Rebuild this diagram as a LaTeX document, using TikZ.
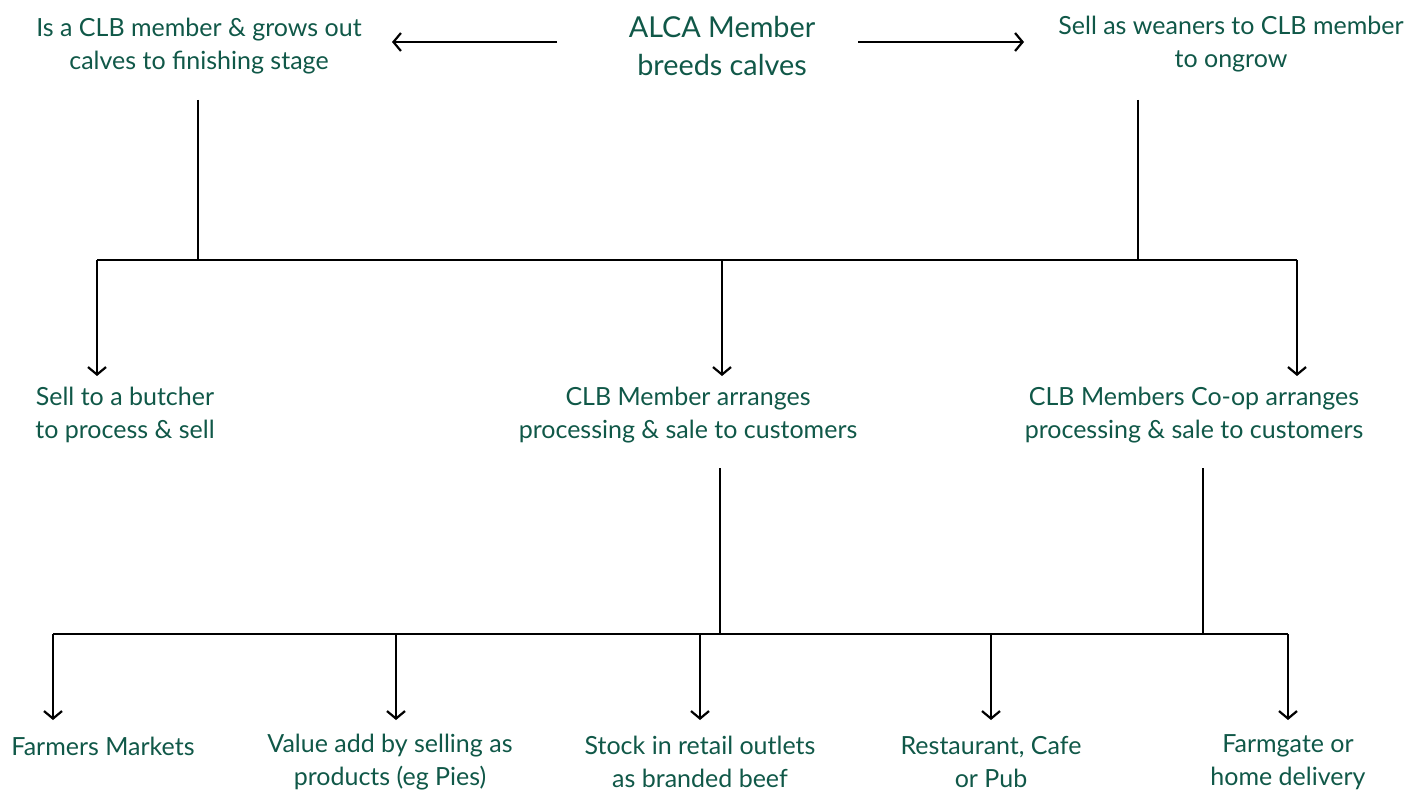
\documentclass[tikz,border=0pt]{standalone}
\usepackage{fontspec}
\setmainfont{Lato}
\usetikzlibrary{arrows.meta}
\definecolor{dg}{RGB}{16,88,72}
\tikzset{
  lbl/.style={text=dg, align=center, inner sep=0pt, font=\fontsize{25}{32.5}\selectfont},
  ttl/.style={text=dg, align=center, inner sep=0pt, font=\fontsize{28.8}{38}\selectfont},
  ln/.style={line width=2.2pt, black},
  arr/.style={ln, -{Straight Barb[length=7.5pt,width=18pt,line width=2.2pt]}},
}
\begin{document}
\begin{tikzpicture}[x=1pt,y=-1pt]
\useasboundingbox (0,0) rectangle (1410,791);
% nodes
\node[ttl] (title) at (722,46) {ALCA Member\\breeds calves};
\node[lbl] (tl) at (199,46) {Is a CLB member \& grows out\\calves to finishing stage};
\node[lbl] (tr) at (1231,44) {Sell as weaners to CLB member\\to ongrow};
\node[lbl] (m1) at (125,415) {Sell to a butcher\\to process \& sell};
\node[lbl] (m2) at (688,415) {CLB Member arranges\\processing \& sale to customers};
\node[lbl] (m3) at (1194,415) {CLB Members Co-op arranges\\processing \& sale to customers};
\node[lbl] (b1) at (103,746) {Farmers Markets};
\node[lbl] (b2) at (390,762) {Value add by selling as\\products (eg Pies)};
\node[lbl] (b3) at (700,762) {Stock in retail outlets\\as branded beef};
\node[lbl] (b4) at (991,762) {Restaurant, Cafe\\or Pub};
\node[lbl] (b5) at (1288,762) {Farmgate or\\home delivery};
% coordinates
\coordinate (tA) at (557,42); \coordinate (tAe) at (392,42);
\coordinate (tB) at (858,42); \coordinate (tBe) at (1024,42);
\coordinate (lv1) at (198,100); \coordinate (lv2) at (198,260);
\coordinate (rv1) at (1138,100); \coordinate (rv2) at (1138,260);
\coordinate (h1) at (97,260); \coordinate (h2) at (1297,260);
\coordinate (hm) at (722,260);
\coordinate (e1) at (97,376); \coordinate (e2) at (722,376); \coordinate (e3) at (1297,376);
\coordinate (mv1) at (720,468); \coordinate (mv2) at (720,634);
\coordinate (cv1) at (1203,468); \coordinate (cv2) at (1203,634);
\coordinate (g1) at (53,634); \coordinate (g2) at (1288,634);
\coordinate (d2) at (396,634); \coordinate (d3) at (700,634); \coordinate (d4) at (991,634);
\coordinate (f1) at (53,720); \coordinate (f2) at (396,720); \coordinate (f3) at (700,720); \coordinate (f4) at (991,720); \coordinate (f5) at (1288,720);
% connectors
\draw[arr] (tA) -- (tAe);
\draw[arr] (tB) -- (tBe);
\draw[ln] (lv1) -- (lv2);
\draw[ln] (rv1) -- (rv2);
\draw[ln] (h1) -- (h2);
\draw[arr] (h1) -- (e1);
\draw[arr] (hm) -- (e2);
\draw[arr] (h2) -- (e3);
\draw[ln] (mv1) -- (mv2);
\draw[ln] (cv1) -- (cv2);
\draw[ln] (g1) -- (g2);
\draw[arr] (g1) -- (f1);
\draw[arr] (d2) -- (f2);
\draw[arr] (d3) -- (f3);
\draw[arr] (d4) -- (f4);
\draw[arr] (g2) -- (f5);
\end{tikzpicture}
\end{document}
